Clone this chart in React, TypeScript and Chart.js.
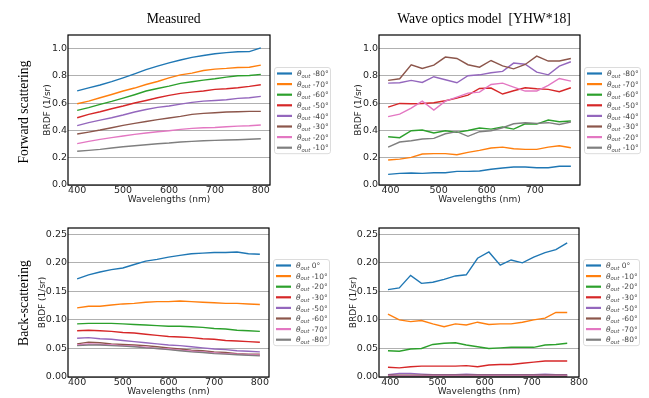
import React, { useEffect, useRef } from "react";
import { Chart, registerables } from "chart.js";

Chart.register(...registerables);

// ---------- DATA ----------
const WL_MEASURED = [400, 425, 450, 475, 500, 525, 550, 575, 600, 625, 650, 675, 700, 725, 750, 775, 800];
const WL_MODEL = [395, 419, 443, 466, 490, 514, 538, 561, 585, 609, 633, 656, 680, 704, 728, 751, 775];

const FWD_ANGLES = ["-80°", "-70°", "-60°", "-50°", "-40°", "-30°", "-20°", "-10°"];
const BACK_ANGLES = ["0°", "-10°", "-20°", "-30°", "-50°", "-60°", "-70°", "-80°"];

const FWD_MEASURED = [
  [0.69, 0.712, 0.733, 0.758, 0.786, 0.815, 0.846, 0.872, 0.896, 0.917, 0.936, 0.95, 0.962, 0.971, 0.977, 0.978, 1.006],
  [0.596, 0.615, 0.64, 0.664, 0.689, 0.711, 0.737, 0.759, 0.786, 0.808, 0.82, 0.84, 0.85, 0.855, 0.862, 0.864, 0.879],
  [0.547, 0.567, 0.591, 0.613, 0.637, 0.662, 0.689, 0.708, 0.725, 0.745, 0.757, 0.769, 0.779, 0.791, 0.801, 0.803, 0.811],
  [0.493, 0.518, 0.537, 0.559, 0.579, 0.601, 0.62, 0.64, 0.657, 0.672, 0.681, 0.689, 0.701, 0.706, 0.713, 0.723, 0.735],
  [0.435, 0.457, 0.476, 0.493, 0.513, 0.535, 0.554, 0.569, 0.579, 0.593, 0.606, 0.615, 0.62, 0.625, 0.635, 0.64, 0.65],
  [0.374, 0.388, 0.403, 0.42, 0.437, 0.452, 0.466, 0.479, 0.491, 0.503, 0.518, 0.525, 0.53, 0.535, 0.537, 0.54, 0.54],
  [0.303, 0.32, 0.335, 0.347, 0.359, 0.371, 0.381, 0.391, 0.398, 0.408, 0.415, 0.42, 0.422, 0.427, 0.432, 0.435, 0.44],
  [0.247, 0.254, 0.261, 0.271, 0.281, 0.288, 0.295, 0.303, 0.308, 0.315, 0.32, 0.325, 0.327, 0.33, 0.332, 0.335, 0.339],
];

const FWD_MODEL = [
  [0.078, 0.085, 0.088, 0.085, 0.09, 0.09, 0.1, 0.1, 0.103, 0.115, 0.125, 0.132, 0.132, 0.127, 0.127, 0.137, 0.137],
  [0.183, 0.19, 0.203, 0.227, 0.23, 0.23, 0.222, 0.239, 0.254, 0.271, 0.278, 0.266, 0.261, 0.261, 0.278, 0.288, 0.273],
  [0.354, 0.347, 0.398, 0.403, 0.381, 0.398, 0.386, 0.4, 0.418, 0.41, 0.425, 0.41, 0.449, 0.447, 0.476, 0.464, 0.469],
  [0.571, 0.598, 0.596, 0.598, 0.603, 0.618, 0.637, 0.659, 0.708, 0.711, 0.667, 0.691, 0.713, 0.706, 0.701, 0.684, 0.713],
  [0.747, 0.75, 0.767, 0.752, 0.794, 0.772, 0.75, 0.801, 0.808, 0.823, 0.833, 0.894, 0.886, 0.828, 0.808, 0.872, 0.904],
  [0.767, 0.779, 0.882, 0.855, 0.879, 0.938, 0.928, 0.882, 0.864, 0.913, 0.874, 0.852, 0.884, 0.945, 0.909, 0.909, 0.928],
  [0.501, 0.52, 0.564, 0.615, 0.549, 0.615, 0.645, 0.674, 0.681, 0.737, 0.747, 0.718, 0.689, 0.689, 0.73, 0.781, 0.762],
  [0.278, 0.315, 0.325, 0.337, 0.342, 0.376, 0.391, 0.357, 0.391, 0.398, 0.42, 0.449, 0.457, 0.452, 0.457, 0.444, 0.462],
];

const BACK_MEASURED = [
  [0.172, 0.179, 0.184, 0.188, 0.191, 0.197, 0.203, 0.206, 0.21, 0.213, 0.216, 0.217, 0.218, 0.218, 0.219, 0.216, 0.215],
  [0.121, 0.124, 0.124, 0.126, 0.128, 0.129, 0.131, 0.132, 0.132, 0.133, 0.132, 0.131, 0.13, 0.129, 0.129, 0.128, 0.127],
  [0.093, 0.094, 0.094, 0.094, 0.093, 0.092, 0.091, 0.09, 0.089, 0.089, 0.088, 0.087, 0.085, 0.084, 0.082, 0.081, 0.08],
  [0.081, 0.082, 0.081, 0.08, 0.078, 0.077, 0.075, 0.073, 0.071, 0.07, 0.069, 0.067, 0.066, 0.064, 0.063, 0.062, 0.061],
  [0.068, 0.069, 0.067, 0.066, 0.064, 0.062, 0.06, 0.058, 0.056, 0.055, 0.053, 0.051, 0.049, 0.048, 0.046, 0.045, 0.044],
  [0.058, 0.061, 0.06, 0.058, 0.057, 0.056, 0.055, 0.053, 0.051, 0.049, 0.047, 0.046, 0.044, 0.043, 0.041, 0.04, 0.04],
  [0.056, 0.058, 0.057, 0.056, 0.055, 0.054, 0.052, 0.05, 0.049, 0.047, 0.045, 0.044, 0.042, 0.041, 0.04, 0.039, 0.038],
  [0.055, 0.056, 0.056, 0.055, 0.054, 0.053, 0.051, 0.05, 0.048, 0.046, 0.044, 0.043, 0.041, 0.04, 0.039, 0.038, 0.037],
];

const BACK_MODEL = [
  [0.153, 0.156, 0.178, 0.164, 0.166, 0.171, 0.177, 0.179, 0.208, 0.219, 0.196, 0.205, 0.2, 0.21, 0.218, 0.223, 0.235],
  [0.11, 0.1, 0.097, 0.099, 0.093, 0.088, 0.093, 0.091, 0.096, 0.092, 0.093, 0.093, 0.096, 0.1, 0.103, 0.113, 0.113],
  [0.046, 0.045, 0.049, 0.05, 0.057, 0.059, 0.06, 0.056, 0.053, 0.05, 0.051, 0.052, 0.052, 0.052, 0.056, 0.057, 0.059],
  [0.017, 0.016, 0.018, 0.019, 0.019, 0.019, 0.019, 0.02, 0.018, 0.021, 0.022, 0.022, 0.024, 0.026, 0.028, 0.028, 0.028],
  [0.004, 0.006, 0.006, 0.005, 0.004, 0.004, 0.004, 0.005, 0.004, 0.004, 0.004, 0.004, 0.004, 0.004, 0.005, 0.004, 0.004],
  [0.003, 0.003, 0.003, 0.003, 0.003, 0.003, 0.003, 0.003, 0.003, 0.003, 0.003, 0.003, 0.003, 0.003, 0.003, 0.003, 0.003],
  [0.002, 0.002, 0.002, 0.002, 0.002, 0.002, 0.002, 0.002, 0.002, 0.002, 0.002, 0.002, 0.002, 0.002, 0.002, 0.002, 0.002],
  [0.001, 0.001, 0.001, 0.001, 0.001, 0.001, 0.001, 0.001, 0.001, 0.001, 0.001, 0.001, 0.001, 0.001, 0.001, 0.001, 0.001],
];

const COLORS = ["#1f77b4", "#ff7f0e", "#2ca02c", "#d62728", "#9467bd", "#8c564b", "#e377c2", "#7f7f7f"];

// ---------- STYLE ----------
const SANS = '"DejaVu Sans", sans-serif';
const SERIF = '"Liberation Serif", "Times New Roman", serif';
const TEXT_COLOR = "#262626";

type PanelSpec = {
  x: number[];
  series: number[][];
  labels: string[];
  xMin: number;
  xMax: number;
  yMax: number;
  yStep: number;
  decimals: number;
  canvas: { left: number; top: number; w: number; h: number };
  area: { left: number; top: number; right: number; bottom: number };
  yTitlePad: number;
};

const PANELS: PanelSpec[] = [
  {
    x: WL_MEASURED, series: FWD_MEASURED, labels: FWD_ANGLES,
    xMin: 380, xMax: 820, yMax: 1.1, yStep: 0.2, decimals: 1,
    canvas: { left: 0, top: 0, w: 335, h: 210 },
    area: { left: 68, top: 35, right: 270, bottom: 185 },
    yTitlePad: 42,
  },
  {
    x: WL_MODEL, series: FWD_MODEL, labels: FWD_ANGLES,
    xMin: 376, xMax: 794, yMax: 1.1, yStep: 0.2, decimals: 1,
    canvas: { left: 335, top: 0, w: 314, h: 210 },
    area: { left: 44, top: 35, right: 245, bottom: 185 },
    yTitlePad: 18,
  },
  {
    x: WL_MEASURED, series: BACK_MEASURED, labels: BACK_ANGLES,
    xMin: 380, xMax: 820, yMax: 0.261, yStep: 0.05, decimals: 2,
    canvas: { left: 0, top: 210, w: 335, h: 188 },
    area: { left: 68, top: 18, right: 269, bottom: 167 },
    yTitlePad: 37,
  },
  {
    x: WL_MODEL, series: BACK_MODEL, labels: BACK_ANGLES,
    xMin: 376, xMax: 800, yMax: 0.261, yStep: 0.05, decimals: 2,
    canvas: { left: 335, top: 210, w: 314, h: 188 },
    area: { left: 44, top: 18, right: 244, bottom: 167 },
    yTitlePad: 13,
  },
];

// ---------- PLUGINS ----------
const framePlugin = {
  id: "frame",
  afterDatasetsDraw(chart: any) {
    const { ctx, chartArea: a } = chart;
    ctx.save();
    ctx.strokeStyle = "#000";
    ctx.lineWidth = 1.2;
    ctx.strokeRect(a.left, a.top, a.right - a.left, a.bottom - a.top);
    ctx.restore();
  },
};

function roundRectPath(ctx: CanvasRenderingContext2D, x: number, y: number, w: number, h: number, r: number) {
  ctx.beginPath();
  ctx.moveTo(x + r, y);
  ctx.lineTo(x + w - r, y);
  ctx.arcTo(x + w, y, x + w, y + r, r);
  ctx.lineTo(x + w, y + h - r);
  ctx.arcTo(x + w, y + h, x + w - r, y + h, r);
  ctx.lineTo(x + r, y + h);
  ctx.arcTo(x, y + h, x, y + h - r, r);
  ctx.lineTo(x, y + r);
  ctx.arcTo(x, y, x + r, y, r);
  ctx.closePath();
}

const thetaLegend = {
  id: "thetaLegend",
  afterDraw(chart: any) {
    const { ctx, chartArea: a } = chart;
    const ds = chart.data.datasets;
    const w = 56;
    const rowH = 10.6;
    const padY = 6;
    const h = padY * 2 + rowH * (ds.length - 1);
    const x0 = Math.round(a.right + 4);
    const y0 = Math.round((a.top + a.bottom) / 2 - h / 2);
    ctx.save();
    roundRectPath(ctx, x0 + 0.5, y0 + 0.5, w, h, 2.5);
    ctx.fillStyle = "rgba(255,255,255,0.85)";
    ctx.fill();
    ctx.strokeStyle = "#dcdcdc";
    ctx.lineWidth = 1;
    ctx.stroke();
    ds.forEach((d: any, i: number) => {
      const cy = y0 + padY + i * rowH + 0.5;
      ctx.strokeStyle = d.borderColor;
      ctx.lineWidth = 2.2;
      ctx.beginPath();
      ctx.moveTo(x0 + 3, cy);
      ctx.lineTo(x0 + 18, cy);
      ctx.stroke();
      let tx = x0 + 23;
      const base = cy + 2.7;
      ctx.fillStyle = "#444";
      ctx.textAlign = "left";
      ctx.textBaseline = "alphabetic";
      ctx.font = `italic 7.5px ${SANS}`;
      ctx.fillText("θ", tx, base);
      tx += ctx.measureText("θ").width;
      ctx.font = `italic 5.3px ${SANS}`;
      ctx.fillText("out", tx, base + 1.6);
      tx += ctx.measureText("out").width;
      ctx.font = `7.5px ${SANS}`;
      ctx.fillText(" " + d.label, tx, base);
    });
    ctx.restore();
  },
};

function makeConfig(p: PanelSpec): any {
  const X_HEIGHT = 20;
  return {
    type: "line",
    data: {
      datasets: p.series.map((vals, i) => ({
        label: p.labels[i],
        data: p.x.map((xv, j) => ({ x: xv, y: vals[j] })),
        borderColor: COLORS[i],
        backgroundColor: COLORS[i],
        borderWidth: 1.4,
        pointRadius: 0,
        fill: false,
        tension: 0,
        order: -i,
      })),
    },
    options: {
      animation: false,
      responsive: false,
      maintainAspectRatio: false,
      devicePixelRatio: 1,
      events: [],
      layout: {
        padding: {
          left: 0,
          top: p.area.top,
          right: p.canvas.w - p.area.right,
          bottom: p.canvas.h - p.area.bottom - X_HEIGHT,
        },
      },
      plugins: { legend: { display: false }, tooltip: { enabled: false }, title: { display: false } },
      scales: {
        x: {
          type: "linear",
          min: p.xMin,
          max: p.xMax,
          afterFit: (s: any) => { s.height = X_HEIGHT; },
          grid: { display: false, drawTicks: false },
          border: { display: false },
          ticks: {
            stepSize: 100,
            includeBounds: false,
            autoSkip: false,
            maxRotation: 0,
            padding: 0,
            color: TEXT_COLOR,
            font: { family: SANS, size: 9.5 },
            callback: (v: number) => String(v),
          },
          title: {
            display: true,
            text: "Wavelengths (nm)",
            color: TEXT_COLOR,
            font: { family: SANS, size: 9 },
            padding: { top: 0, bottom: 0 },
          },
        },
        y: {
          type: "linear",
          min: 0,
          max: p.yMax,
          afterFit: (s: any) => { s.width = p.area.left; },
          grid: { color: "#b0b0b0", lineWidth: 1, drawTicks: false },
          border: { display: false },
          ticks: {
            stepSize: p.yStep,
            includeBounds: false,
            padding: 1,
            color: TEXT_COLOR,
            font: { family: SANS, size: 9.5 },
            callback: (v: number) => Number(v).toFixed(p.decimals),
          },
          title: {
            display: true,
            text: "BRDF (1/sr)",
            color: TEXT_COLOR,
            font: { family: SANS, size: 9 },
            padding: { top: p.yTitlePad, bottom: 0 },
          },
        },
      },
    },
    plugins: [framePlugin, thetaLegend],
  };
}

function Panel({ spec }: { spec: PanelSpec }) {
  const ref = useRef<HTMLCanvasElement>(null);
  useEffect(() => {
    if (!ref.current) return;
    const chart = new Chart(ref.current, makeConfig(spec));
    return () => chart.destroy();
  }, [spec]);
  return (
    <canvas
      ref={ref}
      width={spec.canvas.w}
      height={spec.canvas.h}
      style={{
        position: "absolute",
        left: spec.canvas.left,
        top: spec.canvas.top,
        width: spec.canvas.w,
        height: spec.canvas.h,
      }}
    />
  );
}

function Label({ text, cx, cy, rotate }: { text: string; cx: number; cy: number; rotate?: boolean }) {
  return (
    <div
      style={{
        position: "absolute",
        left: cx,
        top: cy,
        transform: `translate(-50%, -50%)${rotate ? " rotate(-90deg)" : ""}`,
        fontFamily: SERIF,
        fontSize: 13.7,
        lineHeight: 1,
        color: "#000",
        whiteSpace: "pre",
      }}
    >
      {text}
    </div>
  );
}

export default function App() {
  return (
    <div
      style={{
        position: "absolute",
        left: 0,
        top: 0,
        width: 649,
        height: 398,
        background: "#fff",
        overflow: "hidden",
      }}
    >
      {PANELS.map((p, i) => (
        <Panel key={i} spec={p} />
      ))}
      <Label text="Measured" cx={173.7} cy={19} />
      <Label text="Wave optics model  [YHW*18]" cx={484} cy={19} />
      <Label text="Forward scattering" cx={24} cy={112} rotate />
      <Label text="Back-scattering" cx={24} cy={303} rotate />
    </div>
  );
}
